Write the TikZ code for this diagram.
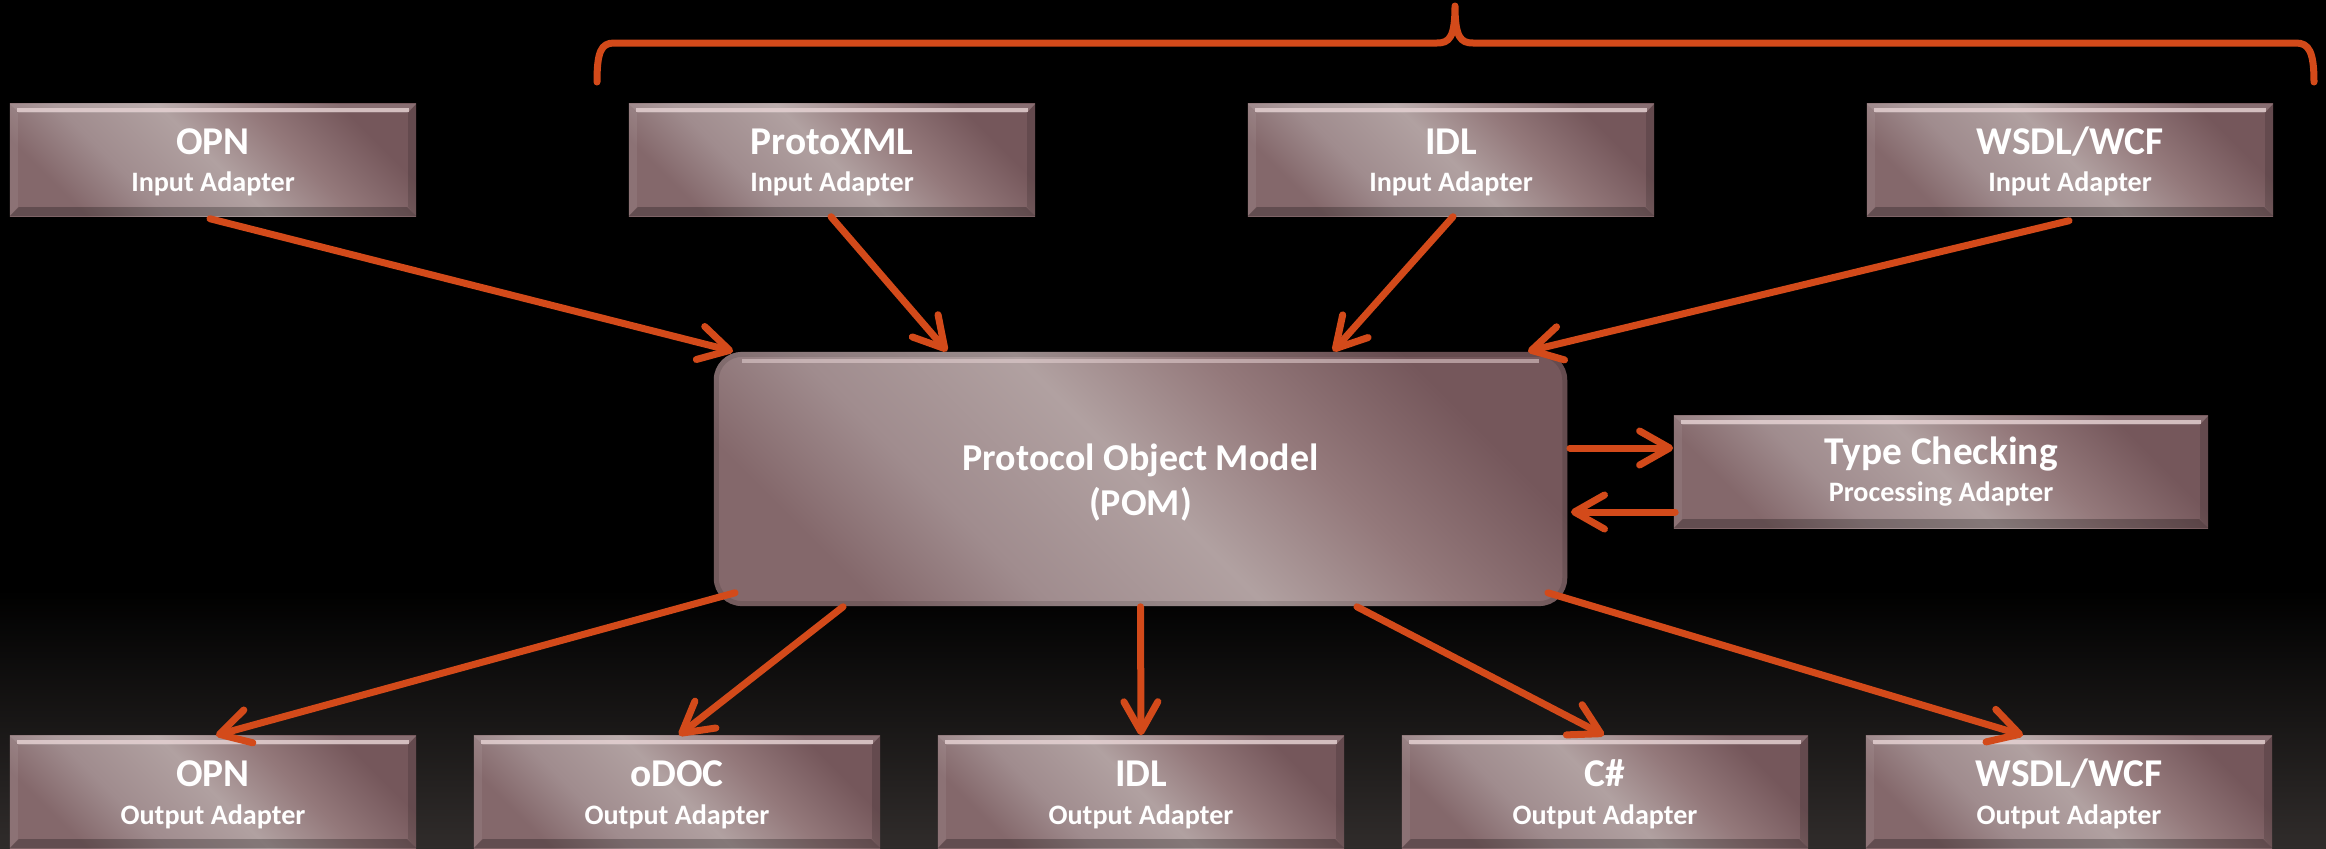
\documentclass[tikz,border=0pt]{standalone}
\usepackage{fontspec}
\setmainfont{Carlito}
\usetikzlibrary{arrows.meta,calc}

\definecolor{bgbottom}{HTML}{302C2B}
\definecolor{arrowc}{HTML}{D34A1A}
\definecolor{mvdarkA}{HTML}{84686B}
\definecolor{mvmidA}{HTML}{A08C8E}
\definecolor{mvlight}{HTML}{B1A1A1}
\definecolor{mvmidB}{HTML}{94797B}
\definecolor{mvdarkB}{HTML}{75575B}
\definecolor{bevellight}{HTML}{E6D2D3}

% mauve body of every box: darker corners, broad light diagonal band
\pgfdeclarehorizontalshading{mauve}{100bp}{color(0bp)=(mvdarkA); color(25bp)=(mvdarkA); color(36bp)=(mvmidA); color(50bp)=(mvlight); color(62bp)=(mvmidB); color(75bp)=(mvdarkB); color(100bp)=(mvdarkB)}

% bevelled edges of the rectangular adapter boxes
\newcommand\bevelrect{%
  \coordinate (bNW) at (path picture bounding box.north west);
  \coordinate (bNE) at (path picture bounding box.north east);
  \coordinate (bSW) at (path picture bounding box.south west);
  \coordinate (bSE) at (path picture bounding box.south east);
  \fill[white, opacity=.14] (bNW) -- (bNE) -- ($(bNE)+(-9,9)$) -- ($(bNW)+(9,9)$) -- cycle;
  \draw[bevellight, opacity=.8, line width=0.035cm] ($(bNW)+(7,6)$) -- ($(bNE)+(-7,6)$);
  \fill[black, opacity=.25] (bSW) -- (bSE) -- ($(bSE)+(-9,-9)$) -- ($(bSW)+(9,-9)$) -- cycle;
  \fill[white, opacity=.07] (bNW) -- (bSW) -- ($(bSW)+(8,-9)$) -- ($(bNW)+(8,9)$) -- cycle;
  \fill[black, opacity=.14] (bNE) -- (bSE) -- ($(bSE)+(-8,-9)$) -- ($(bNE)+(-8,9)$) -- cycle;
}
% soft rim of the rounded model box
\newcommand\bevelround{%
  \coordinate (bNW) at (path picture bounding box.north west);
  \coordinate (bNE) at (path picture bounding box.north east);
  \coordinate (bSE) at (path picture bounding box.south east);
  \draw[black, opacity=.12, line width=0.1cm, rounded corners=0.28cm] (bNW) rectangle (bSE);
  \draw[bevellight, opacity=.55, line width=0.035cm] ($(bNW)+(28,9)$) -- ($(bNE)+(-28,9)$);
}

\tikzset{
  box/.style={shade, shading=mauve, shading angle=45, inner sep=0pt},
  adapter/.style={box, minimum width=4.06cm, minimum height=1.12cm, path picture={\bevelrect}},
  procbox/.style={box, minimum width=5.34cm, minimum height=1.12cm, path picture={\bevelrect}},
  modelbox/.style={box, rounded corners=0.28cm, minimum width=8.53cm, minimum height=2.54cm, path picture={\bevelround}},
  ttl/.style={text=white, inner sep=0pt, anchor=base, font=\bfseries\fontsize{11.2pt}{13pt}\selectfont},
  sub/.style={text=white, inner sep=0pt, anchor=base, font=\bfseries\fontsize{8pt}{9pt}\selectfont},
  pomtxt/.style={text=white, inner sep=0pt, anchor=base, font=\bfseries\fontsize{10.8pt}{13pt}\selectfont},
  arr/.style={draw=arrowc, line width=0.07cm, line cap=round,
              -{Straight Barb[length=0.3cm, width=0.34cm, round]}},
  bracepath/.style={draw=arrowc, line width=0.07cm, line cap=round, line join=round},
}

% name, centre x, centre y, title, subtitle, subtitle offset
\newcommand\adapter[6]{%
  \node[adapter] (#1) at (#2,#3) {};
  \node[ttl] (#1-t) at ($(#1.north)+(0,51)$) {#4};
  \node[sub] (#1-s) at ($(#1.north)+(0,#6)$) {#5};
}

\begin{document}
\begin{tikzpicture}[x=0.01cm, y=-0.01cm]
  % background
  \fill[black] (0,0) rectangle (2326,848);
  \shade[top color=black, bottom color=bgbottom] (0,590) rectangle (2326,848);
  \useasboundingbox (0,0) rectangle (2326,848);

  % input adapters
  \adapter{in1}{213}{160}{OPN}{Input Adapter}{88}
  \adapter{in2}{832}{160}{ProtoXML}{Input Adapter}{88}
  \adapter{in3}{1451}{160}{IDL}{Input Adapter}{88}
  \adapter{in4}{2070}{160}{WSDL/WCF}{Input Adapter}{88}

  % output adapters
  \adapter{out1}{213}{792}{OPN}{Output Adapter}{89}
  \adapter{out2}{677}{792}{oDOC}{Output Adapter}{89}
  \adapter{out3}{1141}{792}{IDL}{Output Adapter}{89}
  \adapter{out4}{1605}{792}{C\#}{Output Adapter}{89}
  \adapter{out5}{2069}{792}{WSDL/WCF}{Output Adapter}{89}

  % protocol object model
  \node[modelbox] (pom) at (1140.5,479) {};
  \node[pomtxt] (pom-t) at ($(pom.center)+(0,-9)$) {Protocol Object Model};
  \node[pomtxt] (pom-s) at ($(pom.center)+(0,36)$) {(POM)};

  % processing adapter
  \node[procbox] (tc) at (1941,472) {};
  \node[ttl] (tc-t) at ($(tc.north)+(0,49)$) {Type Checking};
  \node[sub] (tc-s) at ($(tc.north)+(0,86)$) {Processing Adapter};

  % brace over the three further input adapters
  \draw[bracepath] (597,82) .. controls (597,52) and (601,43) .. (614,43) -- (1437,43)
    .. controls (1449,43) and (1455,38) .. (1455,6)
    .. controls (1455,38) and (1461,43) .. (1473,43) -- (2296,43)
    .. controls (2309,43) and (2314,52) .. (2314,82);

  % inputs into the model
  \draw[arr] ($(in1.south)+(-3,2)$) -- ($(pom.north west)+(20,0)$);
  \draw[arr] ($(in2.south)+(-1,0)$) -- ($(pom.north west)+(234,0)$);
  \draw[arr] ($(in3.south)+(2,0)$) -- ($(pom.north west)+(620,0)$);
  \draw[arr] ($(in4.south)+(-1,4)$) -- ($(pom.north east)+(-40,0)$);

  % model to outputs
  \draw[arr] ($(pom.south west)+(22,-14)$) -- ($(out1.north)+(3,0)$);
  \draw[arr] ($(pom.south west)+(130,0)$) -- ($(out2.north)+(2,0)$);
  \draw[arr] (pom.south) -- (out3.north);
  \draw[arr] ($(pom.south east)+(-211,0)$) -- ($(out4.north)+(-1,0)$);
  \draw[arr] ($(pom.south east)+(-20,-14)$) -- ($(out5.north)+(-46,0)$);

  % model <-> processing adapter
  \draw[arr] ($(pom.east)+(2,-31)$) -- ($(tc.west)+(0,-24)$);
  \draw[arr] ($(tc.west)+(2,40)$) -- ($(pom.east)+(3,33)$);
\end{tikzpicture}
\end{document}
